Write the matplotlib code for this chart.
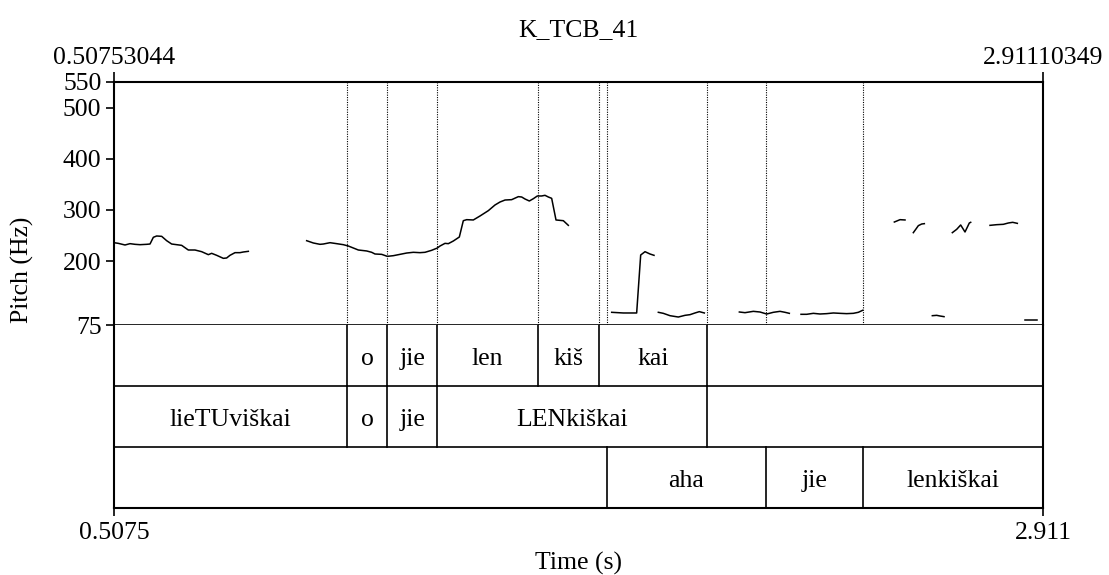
import matplotlib
matplotlib.use("Agg")
import matplotlib.pyplot as plt

plt.rcParams['font.family'] = ['Liberation Serif', 'DejaVu Serif']
FS = 18.5

title = "K_TCB_41"
t_start, t_end = 0.50753044, 2.91110349
f_min, f_max = 75, 550
y_ticks = [75, 200, 300, 400, 500, 550]

# Voiced pitch stretches: (times in s, F0 in Hz)
seg_times = [
    [0.5075, 0.5187, 0.5360, 0.5489, 0.5619, 0.5748, 0.5921, 0.6007, 0.6093, 0.6179,
     0.6309, 0.6438, 0.6567, 0.6697, 0.6826, 0.6998, 0.7171, 0.7344, 0.7516, 0.7602,
     0.7732, 0.7904, 0.7990, 0.8076, 0.8206, 0.8335, 0.8421, 0.8551],
    [1.0060, 1.0233, 1.0405, 1.0491, 1.0664, 1.0836, 1.1009, 1.1138, 1.1268, 1.1397,
     1.1613, 1.1742, 1.1828, 1.2001, 1.2147, 1.2303, 1.2475, 1.2648, 1.2820, 1.2992,
     1.3122, 1.3294, 1.3441, 1.3510, 1.3639, 1.3725, 1.3855, 1.4010, 1.4113, 1.4200,
     1.4372, 1.4545, 1.4760, 1.4933, 1.5062, 1.5192, 1.5364, 1.5537, 1.5623, 1.5709,
     1.5821, 1.5925, 1.6028, 1.6140, 1.6226, 1.6313, 1.6399, 1.6511, 1.6701, 1.6830],
    [1.7952, 1.8253, 1.8598, 1.8702, 1.8814, 1.8943, 1.9047],
    [1.9159, 1.9288, 1.9461, 1.9676, 1.9849, 1.9978, 2.0107, 2.0219, 2.0349],
    [2.1255, 2.1401, 2.1617, 2.1789, 2.1962, 2.2134, 2.2307, 2.2436, 2.2548],
    [2.2850, 2.2997, 2.3169, 2.3342, 2.3514, 2.3687, 2.3859, 2.4031, 2.4204, 2.4333, 2.4445],
    [2.5265, 2.5412, 2.5541],
    [2.5756, 2.5825, 2.5886, 2.5972, 2.6041],
    [2.6248, 2.6360, 2.6446, 2.6550],
    [2.6765, 2.6878, 2.6981, 2.7093, 2.7205, 2.7240],
    [2.7740, 2.7913, 2.8085, 2.8214, 2.8327, 2.8447],
    [2.8646, 2.8948],
]
seg_f0 = [
    [235.9, 234.6, 231.4, 234.0, 232.7, 232.0, 232.7, 233.3, 246.4, 249.0,
     248.3, 239.8, 233.3, 232.0, 230.7, 221.6, 221.6, 218.3, 212.5, 215.1,
     211.2, 205.3, 206.0, 211.2, 216.4, 216.4, 217.7, 219.0],
    [239.8, 235.3, 232.7, 233.3, 235.9, 234.0, 232.0, 229.4, 225.5, 221.6,
     219.7, 217.1, 213.8, 213.1, 209.2, 210.5, 213.1, 215.7, 217.1, 216.4,
     217.1, 221.0, 225.5, 229.4, 234.6, 234.0, 239.2, 247.0, 278.9, 280.9,
     280.3, 288.1, 298.5, 309.6, 315.4, 319.3, 320.0, 325.9, 325.2, 321.3,
     317.4, 321.9, 327.2, 327.2, 328.5, 325.2, 322.6, 280.3, 278.9, 269.8],
    [99.8, 98.5, 98.5, 211.8, 218.3, 213.8, 211.2],
    [99.8, 97.8, 93.2, 90.6, 93.9, 95.2, 98.5, 101.1, 98.5],
    [100.4, 99.1, 101.7, 100.4, 96.5, 99.8, 101.7, 99.8, 97.8],
    [95.9, 95.9, 97.8, 96.5, 97.2, 98.5, 97.8, 97.2, 97.8, 99.8, 103.7],
    [276.3, 280.9, 280.3],
    [255.5, 262.7, 269.2, 272.4, 273.1],
    [93.2, 93.9, 92.6, 91.3],
    [255.5, 262.0, 270.5, 256.8, 274.4, 275.7],
    [269.8, 271.1, 271.8, 274.4, 275.7, 273.7],
    [85.4, 85.4],
]

# TextGrid tiers: interval boundaries and labels
tier1_bounds = [t_start, 1.1111, 1.2146, 1.3440, 1.6046, 1.7632, 2.0418, t_end]
tier1_labels = ["", "o", "jie", "len", "kiš", "kai", ""]
tier2_bounds = [t_start, 1.1111, 1.2146, 1.3440, 2.0418, t_end]
tier2_labels = ["lieTUviškai", "o", "jie", "LENkiškai", ""]
tier3_bounds = [t_start, 1.7823, 2.1952, 2.4462, t_end]
tier3_labels = ["", "aha", "jie", "lenkiškai"]
tiers = [(tier1_bounds, tier1_labels), (tier2_bounds, tier2_labels),
         (tier3_bounds, tier3_labels)]

W, H = 1109, 575
fig = plt.figure(figsize=(W / 100, H / 100), dpi=100)
left, right = 114, 1043
top, mid, bottom = 82, 325, 508
ax_p = fig.add_axes([left / W, 1 - mid / H, (right - left) / W, (mid - top) / H])
ax_t = fig.add_axes([left / W, 1 - bottom / H, (right - left) / W, (bottom - mid) / H])

FRAME_LW = 1.5

# Pitch panel
for ts, fs in zip(seg_times, seg_f0):
    ax_p.plot(ts, fs, color='black', lw=1.1, solid_joinstyle='round')
inner = sorted(set(b for bnds, _ in tiers for b in bnds[1:-1]))
for b in inner:
    ax_p.axvline(b, color='black', lw=0.8, ls=(0, (1, 1.2)))
ax_p.set_xlim(t_start, t_end)
ax_p.set_ylim(f_min, f_max)
ax_p.set_yticks(y_ticks)
ax_p.set_yticklabels([str(v) for v in y_ticks], fontsize=FS)
ax_p.tick_params(axis='y', direction='out', length=6, width=1.2, pad=3)
ax_p.xaxis.tick_top()
ax_p.set_xticks([t_start, t_end])
ax_p.set_xticklabels([f"{t_start:.8f}", f"{t_end:.8f}"], fontsize=FS)
ax_p.tick_params(axis='x', direction='out', length=7, width=1.2, pad=2)
for s in ax_p.spines.values():
    s.set_linewidth(FRAME_LW)
ax_p.spines['bottom'].set_linewidth(1.2)

# TextGrid panel
ax_t.set_xlim(t_start, t_end)
ax_t.set_ylim(3, 0)
for y in (1, 2):
    ax_t.axhline(y, color='black', lw=1.2)
for row, (bnds, labs) in enumerate(tiers):
    for i, lab in enumerate(labs):
        a, b = bnds[i], bnds[i + 1]
        if i > 0:
            ax_t.plot([a, a], [row, row + 1], color='black', lw=1.2)
        if lab:
            ax_t.text((a + b) / 2, row + 0.65, lab, ha='center', va='baseline',
                      fontsize=FS)
ax_t.set_yticks([])
ax_t.set_xticks([t_start, t_end])
ax_t.set_xticklabels([f"{t_start:.4f}", f"{t_end:.3f}"], fontsize=FS)
ax_t.tick_params(axis='x', direction='out', length=6, width=1.2, pad=4)
ax_t.set_xlabel("Time (s)", fontsize=FS, labelpad=6)
for s in ax_t.spines.values():
    s.set_linewidth(FRAME_LW)
ax_t.spines['top'].set_visible(False)

fig.text(22 / W, 1 - 270 / H, "Pitch (Hz)", rotation=90, ha='center', va='center',
         fontsize=FS)
fig.text((left + right) / 2 / W, 1 - 30 / H, title, ha='center', va='center',
         fontsize=FS)

fig.savefig("out.png", dpi=100)
